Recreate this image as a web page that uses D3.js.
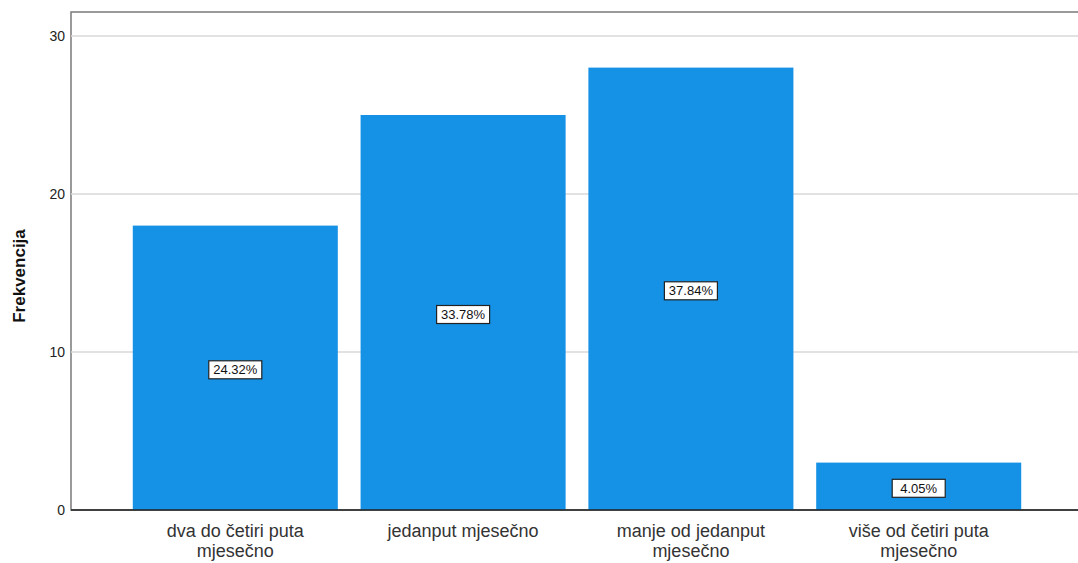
<!doctype html>
<html>
<head>
<meta charset="utf-8">
<title>Frekvencija</title>
<script src="https://cdn.jsdelivr.net/npm/d3@7"></script>
<style>
  body { margin: 0; background: #fff; }
</style>
</head>
<body>
<script>
// data
var categories = ["dva do četiri puta|mjesečno", "jedanput mjesečno", "manje od jedanput|mjesečno", "više od četiri puta|mjesečno"];
var counts = [18, 25, 28, 3];
var yTicks = [0, 10, 20, 30];

var W = 1078, H = 563;
var plotLeft = 71, plotTop = 12, plotBottom = 510;
var total = d3.sum(counts);

var svg = d3.select("body").append("svg").attr("width", W).attr("height", H);

var x = d3.scaleBand().domain(categories).range([110, 1044]).padding(0.1);
var y = d3.scaleLinear().domain([0, 30]).range([plotBottom, 36]);

// frame
svg.append("rect")
  .attr("x", plotLeft).attr("y", plotTop)
  .attr("width", W + 10 - plotLeft).attr("height", plotBottom - plotTop)
  .attr("fill", "none").attr("stroke", "#7a7a7a").attr("stroke-width", 1.5);

// grid lines
svg.selectAll("line.grid").data(yTicks.filter(function(d){ return d > 0; }))
  .enter().append("line")
  .attr("class", "grid")
  .attr("x1", plotLeft).attr("x2", W)
  .attr("y1", function(d){ return y(d); }).attr("y2", function(d){ return y(d); })
  .attr("stroke", "#d8d8d8").attr("stroke-width", 1.5);

// y tick labels
svg.selectAll("text.ytick").data(yTicks)
  .enter().append("text")
  .attr("class", "ytick")
  .attr("x", 65).attr("y", function(d){ return y(d) + 5; })
  .attr("text-anchor", "end")
  .attr("font-family", "Arial, Liberation Sans, sans-serif")
  .attr("font-size", "14px").attr("fill", "#222")
  .text(function(d){ return d; });

// bars
svg.selectAll("rect.bar").data(counts)
  .enter().append("rect")
  .attr("class", "bar")
  .attr("x", function(d, i){ return x(categories[i]); })
  .attr("y", function(d){ return y(d); })
  .attr("width", x.bandwidth())
  .attr("height", function(d){ return plotBottom - y(d); })
  .attr("fill", "#1591e6");

// x axis line
svg.append("line")
  .attr("x1", plotLeft).attr("x2", W)
  .attr("y1", plotBottom).attr("y2", plotBottom)
  .attr("stroke", "#222").attr("stroke-width", 1.5);

// percent labels
var lab = svg.selectAll("g.pct").data(counts)
  .enter().append("g")
  .attr("class", "pct")
  .attr("transform", function(d, i){
    return "translate(" + (x(categories[i]) + x.bandwidth() / 2) + "," + (y(d / 2) + 2) + ")";
  });
lab.append("rect")
  .attr("x", -26.5).attr("y", -9).attr("width", 53).attr("height", 18)
  .attr("fill", "#fff").attr("stroke", "#222").attr("stroke-width", 1.2);
lab.append("text")
  .attr("y", 4.5)
  .attr("text-anchor", "middle")
  .attr("font-family", "Arial, Liberation Sans, sans-serif")
  .attr("font-size", "13px").attr("fill", "#111")
  .text(function(d){ return (d / total * 100).toFixed(2) + "%"; });

// x category labels
var xl = svg.selectAll("text.xcat").data(categories)
  .enter().append("text")
  .attr("class", "xcat")
  .attr("text-anchor", "middle")
  .attr("font-family", "Arial, Liberation Sans, sans-serif")
  .attr("font-size", "18px").attr("fill", "#333");
xl.each(function(d){
  var t = d3.select(this);
  var cx = x(d) + x.bandwidth() / 2;
  d.split("|").forEach(function(line, j){
    t.append("tspan").attr("x", cx).attr("y", 537 + j * 20).text(line);
  });
});

// y title
svg.append("text")
  .attr("transform", "translate(25,276) rotate(-90)")
  .attr("text-anchor", "middle")
  .attr("font-family", "Arial, Liberation Sans, sans-serif")
  .attr("font-size", "17px").attr("font-weight", "bold").attr("fill", "#111")
  .text("Frekvencija");
</script>
</body>
</html>
